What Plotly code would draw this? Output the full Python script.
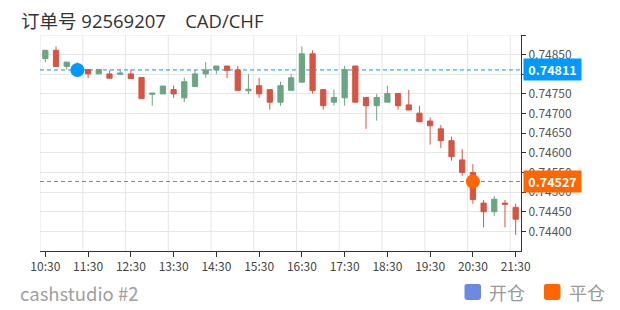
import plotly.graph_objects as go

# ---------------- data ----------------
times = ["10:30", "10:45", "11:00", "11:15", "11:30", "11:45", "12:00", "12:15",
         "12:30", "12:45", "13:00", "13:15", "13:30", "13:45", "14:00", "14:15",
         "14:30", "14:45", "15:00", "15:15", "15:30", "15:45", "16:00", "16:15",
         "16:30", "16:45", "17:00", "17:15", "17:30", "17:45", "18:00", "18:15",
         "18:30", "18:45", "19:00", "19:15", "19:30", "19:45", "20:00", "20:15",
         "20:30", "20:45", "21:00", "21:15", "21:30"]

open_ = [0.74840, 0.74861, 0.74820, 0.74825, 0.74812, 0.74801, 0.74801, 0.74800,
         0.74801, 0.74792, 0.74749, 0.74750, 0.74761, 0.74740, 0.74769, 0.74801,
         0.74811, 0.74821, 0.74811, 0.74758, 0.74771, 0.74761, 0.74729, 0.74759,
         0.74780, 0.74852, 0.74761, 0.74729, 0.74740, 0.74821, 0.74741, 0.74720,
         0.74729, 0.74751, 0.74722, 0.74701, 0.74681, 0.74661, 0.74631, 0.74582,
         0.74550, 0.74472, 0.74450, 0.74472, 0.74461]
high = [0.74861, 0.74871, 0.74831, 0.74830, 0.74812, 0.74812, 0.74810, 0.74812,
        0.74812, 0.74792, 0.74752, 0.74770, 0.74771, 0.74791, 0.74811, 0.74831,
        0.74821, 0.74821, 0.74821, 0.74801, 0.74791, 0.74761, 0.74781, 0.74801,
        0.74871, 0.74861, 0.74761, 0.74761, 0.74821, 0.74821, 0.74741, 0.74750,
        0.74771, 0.74751, 0.74760, 0.74720, 0.74690, 0.74671, 0.74641, 0.74610,
        0.74571, 0.74480, 0.74490, 0.74480, 0.74470]
low = [0.74831, 0.74820, 0.74812, 0.74805, 0.74790, 0.74801, 0.74790, 0.74800,
       0.74789, 0.74738, 0.74720, 0.74750, 0.74740, 0.74729, 0.74769, 0.74791,
       0.74801, 0.74790, 0.74759, 0.74750, 0.74740, 0.74710, 0.74720, 0.74759,
       0.74780, 0.74751, 0.74710, 0.74720, 0.74720, 0.74729, 0.74661, 0.74682,
       0.74729, 0.74710, 0.74709, 0.74679, 0.74621, 0.74612, 0.74580, 0.74542,
       0.74470, 0.74410, 0.74440, 0.74410, 0.74391]
close = [0.74861, 0.74820, 0.74831, 0.74812, 0.74801, 0.74812, 0.74790, 0.74803,
         0.74789, 0.74738, 0.74752, 0.74770, 0.74750, 0.74781, 0.74801, 0.74811,
         0.74821, 0.74810, 0.74759, 0.74762, 0.74750, 0.74729, 0.74771, 0.74791,
         0.74852, 0.74759, 0.74720, 0.74741, 0.74812, 0.74729, 0.74720, 0.74741,
         0.74751, 0.74720, 0.74709, 0.74679, 0.74669, 0.74631, 0.74590, 0.74550,
         0.74481, 0.74450, 0.74482, 0.74469, 0.74431]

open_trade_idx = 3
open_trade_price = 0.74811
close_trade_idx = 40
close_trade_price = 0.74527

y_ticks = [0.74400, 0.74450, 0.74500, 0.74550, 0.74600, 0.74650, 0.74700,
           0.74750, 0.74800, 0.74850, 0.74900]
# labels fully covered by a price box / at the top edge are not shown
y_hidden = [0.74800, 0.74900]
y_range = [0.74350, 0.74900]

title_text = "订单号 92569207\u00a0\u00a0\u00a0\u00a0CAD/CHF"
footer_text = "cashstudio #2"
legend_names = ["开仓", "平仓"]

# ---------------- style ----------------
UP = "#6ba583"
DOWN = "#d75442"
BLUE = "#0099ff"
ORANGE = "#ff6600"
LEG_BLUE = "#6a8be0"
GRID = "#e6e6e6"
AXIS = "#333333"
FONT = "Noto Sans CJK SC"
TITLE_FONT = "Open Sans, Noto Sans CJK SC"

W, H = 620, 310
L, R, T, B = 40, 99, 35, 59
PW, PH = W - L - R, H - T - B


def fx(px):
    return (px - L) / PW


def fy(py):
    return (H - B - py) / PH


def rounded_rect(x0, y0, x1, y1, r):
    # pixel coords -> paper-coordinate SVG path with rounded corners
    pts = [
        ("M", x0 + r, y0), ("L", x1 - r, y0), ("Q", x1, y0, x1, y0 + r),
        ("L", x1, y1 - r), ("Q", x1, y1, x1 - r, y1), ("L", x0 + r, y1),
        ("Q", x0, y1, x0, y1 - r), ("L", x0, y0 + r), ("Q", x0, y0, x0 + r, y0),
    ]
    out = []
    for p in pts:
        cmd, coords = p[0], p[1:]
        pairs = []
        for k in range(0, len(coords), 2):
            pairs.append("%.5f,%.5f" % (fx(coords[k]), fy(coords[k + 1])))
        out.append(cmd + " " + " ".join(pairs))
    return " ".join(out) + " Z"


xs = list(range(len(times)))

fig = go.Figure()
fig.add_trace(go.Candlestick(
    x=xs, open=open_, high=high, low=low, close=close,
    increasing=dict(line=dict(color=UP, width=1), fillcolor=UP),
    decreasing=dict(line=dict(color=DOWN, width=1), fillcolor=DOWN),
    whiskerwidth=0, hoverinfo="skip", showlegend=False,
))

fig.add_trace(go.Scatter(
    x=[xs[open_trade_idx]], y=[open_trade_price], mode="markers",
    marker=dict(size=14, color=BLUE), hoverinfo="skip", showlegend=False))
fig.add_trace(go.Scatter(
    x=[xs[close_trade_idx]], y=[close_trade_price], mode="markers",
    marker=dict(size=14, color=ORANGE), hoverinfo="skip", showlegend=False))

shapes = []
# vertical split lines at category band boundaries before each label
for i in range(0, len(times), 4):
    shapes.append(dict(type="line", xref="x", yref="paper", x0=i - 0.5, x1=i - 0.5,
                       y0=0, y1=1, line=dict(color=GRID, width=1), layer="below"))
# top border grid line
shapes.append(dict(type="line", xref="paper", yref="y", x0=0, x1=1,
                   y0=y_range[1], y1=y_range[1], line=dict(color=GRID, width=1), layer="below"))
# trade price dashed lines
for price, col in [(open_trade_price, BLUE), (close_trade_price, ORANGE)]:
    shapes.append(dict(type="line", xref="paper", yref="y", x0=0, x1=1, y0=price, y1=price,
                       line=dict(color=col, width=1, dash="4px,3px"), layer="below"))
# legend squares
for (x0, col) in [(464.5, LEG_BLUE), (544, ORANGE)]:
    shapes.append(dict(type="path", xref="paper", yref="paper",
                       path=rounded_rect(x0, 284, x0 + 16.5, 300, 2.5),
                       fillcolor=col, line=dict(width=0)))

annotations = []
for price, col in [(open_trade_price, BLUE), (close_trade_price, ORANGE)]:
    annotations.append(dict(
        x=1, xref="paper", y=price, yref="y", xanchor="left", yanchor="middle",
        xshift=2, text="<b>%.5f</b>" % price, showarrow=False, bgcolor=col,
        font=dict(family=FONT, size=12.5, color="white"), width=53, height=17,
        borderpad=2, align="center"))
annotations.append(dict(
    x=fx(19), xref="paper", y=fy(20), yref="paper", xanchor="left", yanchor="middle",
    text=title_text, showarrow=False, font=dict(family=TITLE_FONT, size=18.5, color="#333333")))
annotations.append(dict(
    x=fx(18), xref="paper", y=fy(292.5), yref="paper", xanchor="left", yanchor="middle",
    text=footer_text, showarrow=False, font=dict(family=FONT, size=18.5, color="#a0a0a0")))
for name, px in zip(legend_names, [486.5, 566.5]):
    annotations.append(dict(
        x=fx(px), xref="paper", y=fy(292), yref="paper", xanchor="left", yanchor="middle",
        text=name, showarrow=False, font=dict(family=FONT, size=18, color="#999999")))

tickvals_x = xs[::4]
fig.update_layout(
    width=W, height=H, margin=dict(l=L, r=R, t=T, b=B, autoexpand=False),
    paper_bgcolor="white", plot_bgcolor="white",
    font=dict(family=FONT, size=12, color="#555555"),
    shapes=shapes, annotations=annotations, showlegend=False,
    xaxis=dict(range=[-0.5, len(times) - 0.5], tickvals=tickvals_x,
               ticktext=[times[i] for i in tickvals_x], showgrid=False, zeroline=False,
               ticks="outside", ticklen=5, tickcolor=AXIS, showline=True, linecolor=AXIS,
               linewidth=1, rangeslider=dict(visible=False), fixedrange=True,
               tickfont=dict(family=FONT, size=12, color="#444444")),
    yaxis=dict(range=y_range, side="right", tickvals=y_ticks,
               ticktext=["" if any(abs(v - h) < 1e-9 for h in y_hidden) else "%.5f" % v
                         for v in y_ticks],
               showgrid=True, gridcolor=GRID, gridwidth=1, zeroline=False,
               ticks="outside", ticklen=4, tickcolor=AXIS, showline=True, linecolor=AXIS,
               linewidth=1, fixedrange=True,
               tickfont=dict(family=FONT, size=12, color="#555555")),
)

fig.write_html("out.html", config={"displayModeBar": False})
